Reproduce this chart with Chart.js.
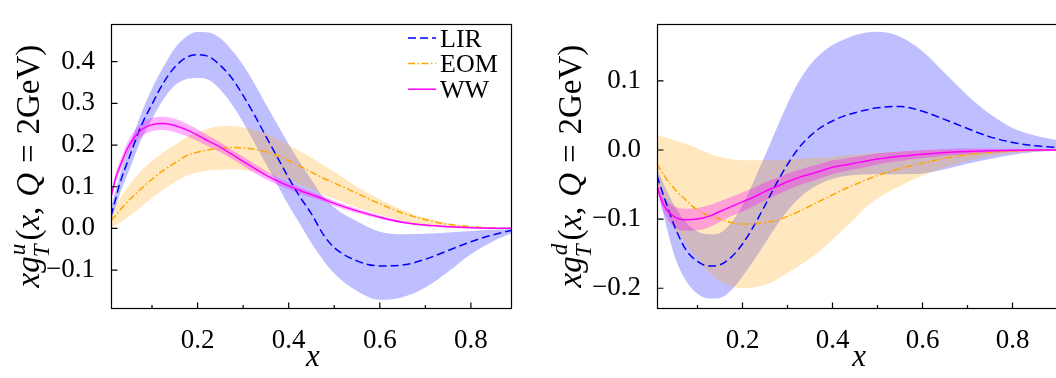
<!DOCTYPE html>
<html lang="en">
<head>
<meta charset="UTF-8">
<title>xg_T at Q = 2 GeV</title>
<script src="https://cdn.jsdelivr.net/npm/chart.js"></script>
<style>
    html, body {
        margin: 0;
        padding: 0;
        background: #fff;
        overflow: hidden;
        width: 1056px;
        height: 378px;
    }
    .panel {
        position: absolute;
        top: 0;
    }
    #leftPanel { left: 0; }
    #rightPanel { left: 530px; }
</style>
</head>
<body>
<canvas id="leftPanel" class="panel" width="530" height="378"></canvas>
<canvas id="rightPanel" class="panel" width="540" height="378"></canvas>

<script>
// x grid shared by every curve
const xGrid = [0.01, 0.02, 0.03, 0.05, 0.075, 0.1, 0.125, 0.15, 0.175, 0.2,
               0.225, 0.25, 0.275, 0.3, 0.325, 0.35, 0.375, 0.4, 0.425, 0.45,
               0.475, 0.5, 0.55, 0.6, 0.65, 0.7, 0.75, 0.8, 0.85, 0.9];

// ---- u quark (left panel) ----
const uLIR   = [0.03, 0.07, 0.11, 0.17, 0.243, 0.298, 0.349, 0.387, 0.41, 0.417,
                0.412, 0.391, 0.361, 0.319, 0.272, 0.221, 0.171, 0.121, 0.075, 0.035,
                -0.013, -0.046, -0.078, -0.09, -0.088, -0.074, -0.053, -0.032, -0.015, -0.002];
const uLIRHi = [0.05, 0.09, 0.13, 0.195, 0.272, 0.335, 0.387, 0.432, 0.46, 0.471,
                0.47, 0.456, 0.428, 0.392, 0.347, 0.298, 0.25, 0.202, 0.158, 0.117,
                0.077, 0.05, 0.017, -0.008, -0.014, -0.013, -0.01, -0.006, -0.003, -0.001];
const uLIRLo = [0.015, 0.05, 0.085, 0.14, 0.21, 0.262, 0.31, 0.343, 0.358, 0.361,
                0.356, 0.333, 0.298, 0.255, 0.205, 0.155, 0.105, 0.055, 0.01, -0.035,
                -0.075, -0.108, -0.15, -0.171, -0.165, -0.142, -0.104, -0.062, -0.03, -0.007];
const uEOM   = [0.019, 0.031, 0.044, 0.068, 0.094, 0.118, 0.139, 0.157, 0.174, 0.183,
                0.189, 0.192, 0.194, 0.193, 0.19, 0.184, 0.175, 0.163, 0.149, 0.135,
                0.121, 0.109, 0.084, 0.059, 0.037, 0.021, 0.01, 0.004, 0.001, 0];
const uEOMHi = [0.04, 0.056, 0.073, 0.104, 0.137, 0.162, 0.183, 0.2, 0.218, 0.23,
                0.24, 0.245, 0.246, 0.243, 0.237, 0.228, 0.215, 0.2, 0.185, 0.17,
                0.152, 0.136, 0.1, 0.07, 0.044, 0.025, 0.012, 0.005, 0.0015, 0];
const uEOMLo = [0.002, 0.008, 0.015, 0.03, 0.051, 0.073, 0.094, 0.111, 0.126, 0.134,
                0.139, 0.141, 0.142, 0.14, 0.136, 0.132, 0.124, 0.115, 0.105, 0.094,
                0.081, 0.071, 0.05, 0.033, 0.018, 0.008, 0.003, 0.001, 0, 0];
const uWW    = [0.075, 0.12, 0.15, 0.2, 0.235, 0.249, 0.252, 0.247, 0.237, 0.224,
                0.209, 0.195, 0.178, 0.161, 0.144, 0.128, 0.114, 0.102, 0.091, 0.081,
                0.071, 0.06, 0.042, 0.027, 0.015, 0.008, 0.004, 0.0015, 0.0005, 0];
const uWWHi  = [0.085, 0.132, 0.163, 0.214, 0.251, 0.265, 0.268, 0.263, 0.252, 0.238,
                0.222, 0.207, 0.189, 0.172, 0.155, 0.138, 0.123, 0.11, 0.099, 0.088,
                0.077, 0.066, 0.047, 0.031, 0.018, 0.01, 0.0055, 0.0025, 0.001, 0.0005];
const uWWLo  = [0.065, 0.108, 0.137, 0.186, 0.219, 0.233, 0.236, 0.231, 0.222, 0.21,
                0.196, 0.183, 0.167, 0.15, 0.133, 0.118, 0.105, 0.094, 0.083, 0.074,
                0.065, 0.054, 0.037, 0.023, 0.012, 0.006, 0.0025, 0.0005, 0, -0.0005];

// ---- d quark (right panel) ----
const dLIR   = [-0.037, -0.057, -0.076, -0.112, -0.145, -0.161, -0.168, -0.166, -0.155, -0.136,
                -0.11, -0.08, -0.049, -0.021, 0.003, 0.02, 0.033, 0.042, 0.049, 0.054,
                0.058, 0.061, 0.063, 0.056, 0.044, 0.031, 0.019, 0.011, 0.006, 0.0035];
const dLIRHi = [-0.028, -0.042, -0.056, -0.082, -0.105, -0.118, -0.122, -0.12, -0.105, -0.08,
                -0.045, -0.008, 0.03, 0.067, 0.099, 0.123, 0.14, 0.152, 0.16, 0.166,
                0.17, 0.171, 0.164, 0.143, 0.111, 0.079, 0.052, 0.032, 0.021, 0.014];
const dLIRLo = [-0.046, -0.08, -0.108, -0.155, -0.19, -0.208, -0.215, -0.214, -0.203, -0.183,
                -0.16, -0.135, -0.11, -0.088, -0.07, -0.057, -0.048, -0.042, -0.038, -0.036,
                -0.035, -0.035, -0.035, -0.034, -0.028, -0.02, -0.013, -0.007, -0.003, -0.001];
const dEOM   = [-0.02, -0.031, -0.041, -0.057, -0.073, -0.087, -0.095, -0.1, -0.105, -0.107,
                -0.107, -0.105, -0.102, -0.096, -0.089, -0.081, -0.073, -0.065, -0.057, -0.05,
                -0.043, -0.037, -0.027, -0.019, -0.012, -0.007, -0.0035, -0.0015, -0.0005, 0];
const dEOMHi = [0.021, 0.02, 0.018, 0.014, 0.009, 0.002, -0.005, -0.01, -0.013, -0.015,
                -0.015, -0.015, -0.015, -0.014, -0.013, -0.012, -0.011, -0.01, -0.008, -0.007,
                -0.005, -0.004, -0.002, -0.001, 0, 0, 0, 0, 0, 0];
const dEOMLo = [-0.06, -0.075, -0.09, -0.115, -0.137, -0.158, -0.176, -0.19, -0.197, -0.2,
                -0.199, -0.195, -0.188, -0.178, -0.168, -0.157, -0.145, -0.13, -0.114, -0.099,
                -0.082, -0.07, -0.052, -0.037, -0.025, -0.016, -0.009, -0.004, -0.002, 0];
const dWW    = [-0.052, -0.073, -0.085, -0.097, -0.101, -0.1, -0.096, -0.089, -0.082, -0.075,
                -0.068, -0.06, -0.053, -0.046, -0.04, -0.035, -0.03, -0.025, -0.022, -0.019,
                -0.016, -0.013, -0.009, -0.006, -0.0035, -0.002, -0.001, -0.0005, 0, 0];
const dWWHi  = [-0.046, -0.063, -0.073, -0.082, -0.085, -0.084, -0.08, -0.074, -0.068, -0.061,
                -0.055, -0.047, -0.041, -0.034, -0.029, -0.024, -0.0195, -0.015, -0.0125, -0.01,
                -0.0075, -0.005, -0.002, 0, 0.0015, 0.002, 0.002, 0.0015, 0.001, 0.0005];
const dWWLo  = [-0.058, -0.083, -0.097, -0.112, -0.117, -0.116, -0.112, -0.104, -0.096, -0.089,
                -0.081, -0.073, -0.065, -0.058, -0.051, -0.046, -0.0405, -0.035, -0.0315, -0.028,
                -0.0245, -0.021, -0.016, -0.012, -0.0085, -0.006, -0.004, -0.0025, -0.001, -0.0005];

// axis ticks
const xMajorTicks = [0.2, 0.4, 0.6, 0.8];
const xMinorTicks = [0.1, 0.3, 0.5, 0.7];
const uYTicks = [-0.1, 0.0, 0.1, 0.2, 0.3, 0.4];
const dYTicks = [-0.2, -0.1, 0.0, 0.1];

const FONT = '"Liberation Serif", "DejaVu Serif", serif';

function pts(ys) {
    return xGrid.map((x, i) => ({ x: x, y: ys[i] }));
}

function band(hi, lo, color, order) {
    return [
        { label: '', data: pts(hi), borderWidth: 0, pointRadius: 0, fill: false, order: order },
        { label: '', data: pts(lo), borderWidth: 0, pointRadius: 0, fill: '-1', backgroundColor: color, order: order }
    ];
}

function line(label, ys, color, dash, order) {
    return {
        label: label, data: pts(ys), borderColor: color, borderWidth: 1.5,
        borderDash: dash, pointRadius: 0, fill: false, order: order
    };
}

function fmt(v) {
    const s = Math.abs(v).toFixed(1);
    return v < -1e-9 ? '\u2212' + s : s;
}

// rotated y-axis title with sub/superscript
function drawYTitle(ctx, baseX, midY, size, sup) {
    const small = size * 0.7;
    const f = (it, s) => (it ? 'italic ' : '') + s + 'px ' + FONT;
    const parts = [
        { t: 'x', it: true }, { t: 'g', it: true },
        { sup: sup, sub: 'T' },
        { t: '(', it: false }, { t: 'x', it: true }, { t: ',', it: false }, { gap: 0.3 },
        { t: 'Q', it: true }, { gap: 0.3 }, { t: '=', it: false }, { gap: 0.3 },
        { t: '2GeV', it: false }, { t: ')', it: false }
    ];
    let total = 0;
    parts.forEach(p => {
        if (p.gap) p.w = p.gap * size;
        else if (p.sup) {
            ctx.font = f(true, small);
            p.w = Math.max(ctx.measureText(p.sup).width, ctx.measureText(p.sub).width) + 3;
        } else {
            ctx.font = f(p.it, size);
            p.w = ctx.measureText(p.t).width;
        }
        total += p.w;
    });
    ctx.save();
    ctx.translate(baseX, midY);
    ctx.rotate(-Math.PI / 2);
    ctx.fillStyle = '#000';
    ctx.textBaseline = 'alphabetic';
    ctx.textAlign = 'left';
    let x = -total / 2;
    parts.forEach(p => {
        if (p.sup) {
            ctx.font = f(true, small);
            ctx.fillText(p.sup, x + 1, -size * 0.42);
            ctx.fillText(p.sub, x - 1, size * 0.3);
        } else if (p.t) {
            ctx.font = f(p.it, size);
            ctx.fillText(p.t, x, 0);
        }
        x += p.w;
    });
    ctx.restore();
}

const panelDecor = {
    id: 'panelDecor',
    afterDraw(chart, args, opts) {
        const { ctx, chartArea: a, scales } = chart;
        ctx.save();
        ctx.strokeStyle = '#000';
        ctx.lineWidth = 1.2;
        const L = Math.round(a.left) + 0.5, R = Math.round(a.right) + 0.5;
        const T = Math.round(a.top) + 0.5, B = Math.round(a.bottom) + 0.5;
        ctx.strokeRect(L, T, R - L, B - T);
        ctx.beginPath();
        xMajorTicks.forEach(v => {
            const px = scales.x.getPixelForValue(v);
            ctx.moveTo(px, B); ctx.lineTo(px, B - 6);
        });
        xMinorTicks.forEach(v => {
            const px = scales.x.getPixelForValue(v);
            ctx.moveTo(px, B); ctx.lineTo(px, B - 3.5);
        });
        opts.yTicks.forEach(v => {
            const py = scales.y.getPixelForValue(v);
            ctx.moveTo(L, py); ctx.lineTo(L + 6, py);
        });
        ctx.stroke();

        // x title
        ctx.fillStyle = '#000';
        ctx.font = 'italic 31px ' + FONT;
        ctx.textAlign = 'center';
        ctx.textBaseline = 'alphabetic';
        ctx.fillText('x', (a.left + a.right) / 2 + 2, 366);

        // y title
        drawYTitle(ctx, opts.titleX, (a.top + a.bottom) / 2, 33, opts.sup);

        // legend
        if (opts.legend) {
            const rows = chart.data.datasets.filter(d => d.label);
            rows.forEach((d, i) => {
                const y = 38 + i * 25.6;
                ctx.strokeStyle = d.borderColor;
                ctx.lineWidth = d.borderWidth;
                ctx.setLineDash(d.borderDash || []);
                ctx.beginPath();
                ctx.moveTo(408, y); ctx.lineTo(436, y);
                ctx.stroke();
                ctx.setLineDash([]);
                ctx.font = '26px ' + FONT;
                ctx.textAlign = 'left';
                ctx.fillText(d.label, 440, y + 8.5);
            });
        }
        ctx.restore();
    }
};

function makePanel(canvasId, cfg) {
    const datasets = [].concat(
        band(cfg.lirHi, cfg.lirLo, 'rgba(0, 0, 255, 0.25)', 30),
        band(cfg.eomHi, cfg.eomLo, 'rgba(255, 165, 0, 0.25)', 20),
        band(cfg.wwHi, cfg.wwLo, 'rgba(255, 0, 255, 0.3)', 10),
        [
            line('LIR', cfg.lir, '#0000ff', [8, 4], 3),
            line('EOM', cfg.eom, '#ffa500', [7, 2.5, 1.5, 2.5], 2),
            line('WW', cfg.ww, '#ff00ff', [], 1)
        ]
    );
    datasets.forEach(d => { d.cubicInterpolationMode = 'monotone'; });

    return new Chart(document.getElementById(canvasId), {
        type: 'line',
        data: { datasets: datasets },
        options: {
            responsive: false,
            animation: false,
            devicePixelRatio: 1,
            layout: { padding: { top: 2, right: cfg.padRight, bottom: 0, left: 0 } },
            scales: {
                x: {
                    type: 'linear',
                    min: 0.01,
                    max: cfg.xMax,
                    grid: { display: false },
                    border: { display: false },
                    afterFit: s => { s.height = 70; },
                    afterBuildTicks: s => { s.ticks = xMajorTicks.map(v => ({ value: v })); },
                    ticks: {
                        color: '#000',
                        font: { family: FONT, size: 27 },
                        padding: 9,
                        maxRotation: 0,
                        callback: v => fmt(v)
                    }
                },
                y: {
                    type: 'linear',
                    min: cfg.yMin,
                    max: cfg.yMax,
                    grid: { display: false },
                    border: { display: false },
                    afterFit: s => { s.width = cfg.yWidth; },
                    afterBuildTicks: s => { s.ticks = cfg.yTicks.map(v => ({ value: v })); },
                    ticks: {
                        color: '#000',
                        font: { family: FONT, size: 27 },
                        padding: 8,
                        callback: v => fmt(v)
                    }
                }
            },
            plugins: {
                legend: { display: false },
                tooltip: { enabled: false },
                panelDecor: {
                    yTicks: cfg.yTicks,
                    sup: cfg.sup,
                    titleX: cfg.titleX,
                    legend: cfg.legend
                }
            }
        },
        plugins: [panelDecor]
    });
}

makePanel('leftPanel', {
    lir: uLIR, lirHi: uLIRHi, lirLo: uLIRLo,
    eom: uEOM, eomHi: uEOMHi, eomLo: uEOMLo,
    ww: uWW, wwHi: uWWHi, wwLo: uWWLo,
    yTicks: uYTicks, yMin: -0.191, yMax: 0.49, xMax: 0.888,
    yWidth: 111, padRight: 19, titleX: 39, sup: 'u', legend: true
});

makePanel('rightPanel', {
    lir: dLIR, lirHi: dLIRHi, lirLo: dLIRLo,
    eom: dEOM, eomHi: dEOMHi, eomLo: dEOMLo,
    ww: dWW, wwHi: dWWHi, wwLo: dWWLo,
    yTicks: dYTicks, yMin: -0.2286, yMax: 0.182, xMax: 0.9,
    yWidth: 127, padRight: 12.5, titleX: 51, sup: 'd', legend: false
});
</script>
</body>
</html>
